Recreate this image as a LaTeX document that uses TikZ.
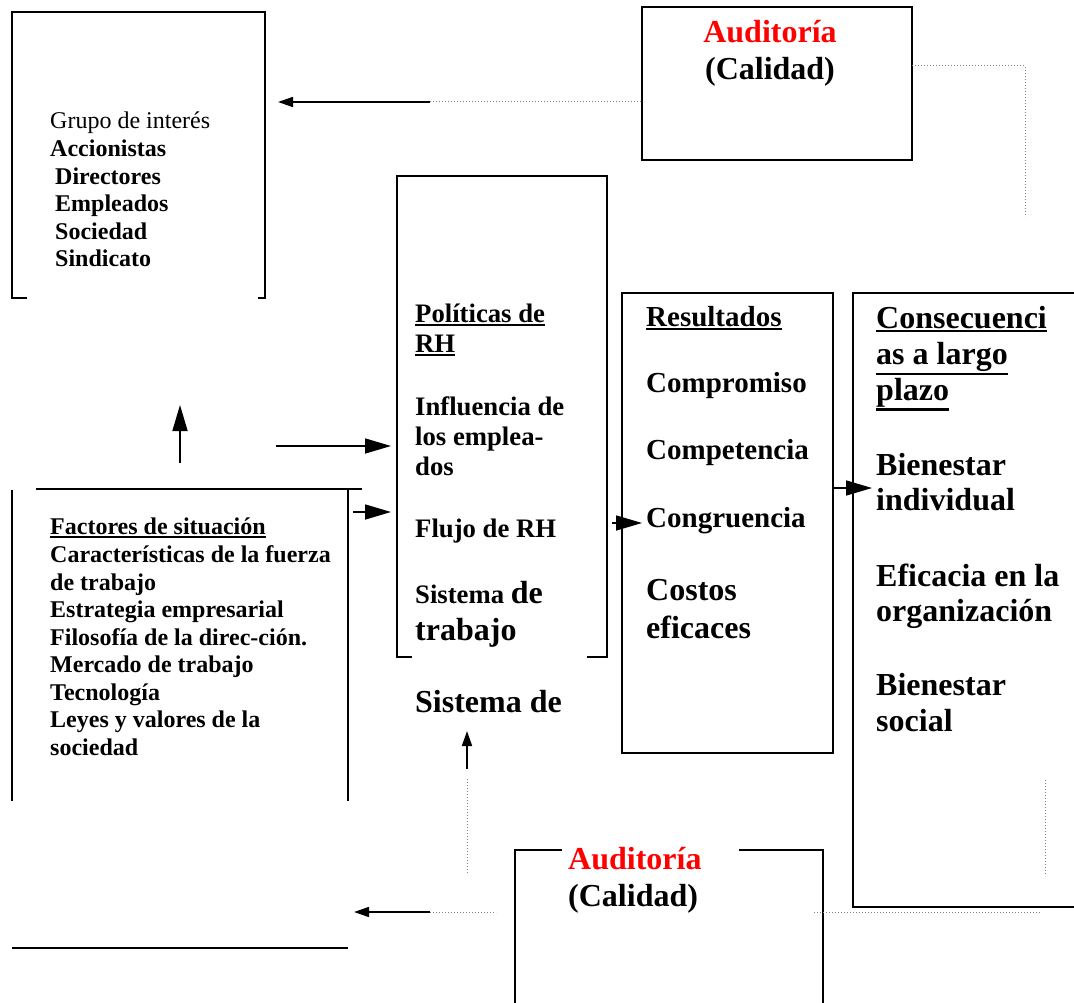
\documentclass[tikz,border=0pt]{standalone}
\usepackage{fontspec}
\setmainfont{Liberation Serif}
\usetikzlibrary{arrows.meta}
% subrayado grueso, bajo la profundidad del texto
\newcommand{\subrayado}[1]{\setbox0\hbox{#1}\leavevmode\rlap{\vrule height -\dimexpr\dp0+1.5pt\relax depth \dimexpr\dp0+4pt\relax width \wd0}\box0}
\tikzset{
  caja/.style={line width=2pt},
  punteado/.style={gray, dotted, line width=1pt},
  flechag/.style={line width=1.6pt, -{Triangle[length=26pt,width=15pt]}},
  flechap/.style={line width=1.6pt, -{Triangle[length=15pt,width=10pt]}},
  txtg/.style={anchor=base west, inner sep=0pt, font=\fontsize{24}{27.5}\selectfont\bfseries},
  txtp/.style={anchor=base west, inner sep=0pt, font=\fontsize{26.7}{30}\selectfont\bfseries},
  txtr/.style={anchor=base west, inner sep=0pt, font=\fontsize{29}{33}\selectfont\bfseries},
  txtc/.style={anchor=base west, inner sep=0pt, font=\fontsize{32}{36}\selectfont\bfseries},
}
\begin{document}
\begin{tikzpicture}[x=1pt,y=-1pt]
  \clip (0,0) rectangle (1074,1003);
  \fill[white] (0,0) rectangle (1074,1003);

  % cajas
  \draw[caja] (27,298) -- (12,298) -- (12,12) -- (265,12) -- (265,298) -- (258,298);
  \draw[caja] (642,7) rectangle (912,160);
  \draw[caja] (412,657) -- (397,657) -- (397,176) -- (607,176) -- (607,657) -- (587,657);
  \draw[caja] (622,293) rectangle (833,753);
  \draw[caja] (1080,293) -- (853,293) -- (853,907) -- (1080,907);
  \draw[caja] (12,801) -- (12,490);
  \draw[caja] (36,489) -- (362,489);
  \draw[caja] (348,489) -- (348,801);
  \draw[caja] (12,948) -- (348,948);
  \draw[caja] (562,850) -- (515,850) -- (515,1010);
  \draw[caja] (739,850) -- (823,850) -- (823,1010);

  % grupo de interes
  \node[txtg, font=\fontsize{24}{27.5}\selectfont] (grupo0) at (50,129) {Grupo de interés};
  \foreach \xx/\yy/\lbl [count=\i] in {50/157/Accionistas, 55/185/Directores,
      55/212/Empleados, 55/240/Sociedad, 55/267/Sindicato}
    \node[txtg] (grupo\i) at (\xx,\yy) {\lbl};

  % factores de situacion
  \foreach \yy/\lbl [count=\i] in {534/\subrayado{Factores de situación},
      562/Características de la fuerza, 590/de trabajo, 617/Estrategia empresarial,
      645/Filosofía de la direc-ción., 672/Mercado de trabajo, 700/Tecnología,
      727/Leyes y valores de la, 755/sociedad}
    \node[txtg] (fact\i) at (50,\yy) {\lbl};

  % politicas de RH
  \foreach \yy/\lbl [count=\i] in {322/\subrayado{Políticas de}, 352/\subrayado{RH},
      415/Influencia de, 445/los emplea-, 475/dos, 537/Flujo de RH}
    \node[txtp] (pol\i) at (415,\yy) {\lbl};
  \node[txtp] (pol7) at (415,603) {Sistema {\fontsize{32}{36}\selectfont de}};
  \node[txtc] (pol8) at (415,640) {trabajo};
  \node[txtc] (sist) at (415,712) {Sistema de};

  % resultados
  \foreach \yy/\lbl [count=\i] in {326/\subrayado{Resultados}, 392/Compromiso,
      459/Competencia, 527/Congruencia}
    \node[txtr] (res\i) at (646,\yy) {\lbl};
  \node[txtc] (res5) at (646,600) {Costos};
  \node[txtc] (res6) at (646,638) {eficaces};

  % consecuencias
  \foreach \yy/\lbl [count=\i] in {328/\subrayado{Consecuenci}, 364/\subrayado{as a largo},
      400/\subrayado{plazo}, 475/Bienestar, 510/individual, 586/Eficacia en la,
      621/organización, 695/Bienestar, 731/social}
    \node[txtc] (cons\i) at (876,\yy) {\lbl};

  % auditorias
  \node[txtc, anchor=base, text=red] (aud1) at (770,43) {Auditoría};
  \node[txtc, anchor=base] (cal1) at (770,80) {(Calidad)};
  \node[txtc, text=red] (aud2) at (568,869) {Auditoría};
  \node[txtc] (cal2) at (568,906) {(Calidad)};

  % extremos de las flechas
  \coordinate (fa1) at (430,102);  \coordinate (fa2) at (278,102);
  \coordinate (fa3) at (642,102);
  \coordinate (fb1) at (180,463);  \coordinate (fb2) at (180,405);
  \coordinate (fc1) at (276,446);  \coordinate (fc2) at (391,446);
  \coordinate (fd1) at (353,512);  \coordinate (fd2) at (391,512);
  \coordinate (fe1) at (612,523);  \coordinate (fe2) at (642,523);
  \coordinate (ff1) at (833,488);  \coordinate (ff2) at (872,488);
  \coordinate (fg1) at (467,769);  \coordinate (fg2) at (467,731);
  \coordinate (fg3) at (467,779);  \coordinate (fg4) at (467,873);
  \coordinate (fh1) at (430,912);  \coordinate (fh2) at (354,912);
  \coordinate (fh3) at (496,912);
  \coordinate (fi1) at (814,912);  \coordinate (fi2) at (1040,912);
  \coordinate (fj1) at (1045,780); \coordinate (fj2) at (1045,875);
  \coordinate (fk1) at (912,66);   \coordinate (fk2) at (1025,66);
  \coordinate (fk3) at (1025,217);

  \draw[flechap] (fa1) -- (fa2);
  \draw[punteado] (fa1) -- (fa3);
  \draw[flechag] (fb1) -- (fb2);
  \draw[flechag] (fc1) -- (fc2);
  \draw[flechag] (fd1) -- (fd2);
  \draw[flechag] (fe1) -- (fe2);
  \draw[flechag] (ff1) -- (ff2);
  \draw[flechap] (fg1) -- (fg2);
  \draw[punteado] (fg3) -- (fg4);
  \draw[flechap] (fh1) -- (fh2);
  \draw[punteado] (fh1) -- (fh3);
  \draw[punteado] (fi1) -- (fi2);
  \draw[punteado] (fj1) -- (fj2);
  \draw[punteado] (fk1) -- (fk2) -- (fk3);
\end{tikzpicture}
\end{document}
